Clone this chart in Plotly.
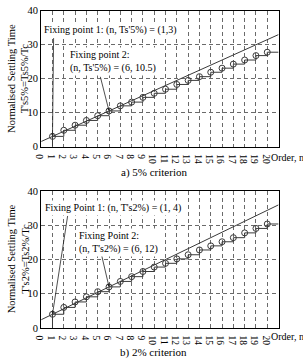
import plotly.graph_objects as go

orders = list(range(1, 21))
ts5 = [3, 4.8, 6.3, 7.7, 9.1, 10.5, 12.0, 13.1, 14.5, 15.7,
       16.9, 18.3, 19.5, 20.6, 21.9, 23.1, 24.3, 25.5, 26.8, 27.8]
ts2 = [4, 6.0, 7.6, 9.1, 10.6, 12.0, 13.6, 15.0, 16.5, 17.8,
       18.9, 20.2, 21.4, 22.8, 24.0, 25.2, 26.4, 27.8, 29.1, 30.4]
fix5 = [(1, 3), (6, 10.5)]
fix2 = [(1, 4), (6, 12)]
x_ticks = list(range(0, 21))
y_ticks = [0, 10, 20, 30, 40]
X_MAX = 21

FONT = "Liberation Serif, Times New Roman, serif"
LC = "#3a3a3a"

fig = go.Figure()

def add_panel(vals, fix, xa, ya):
    sx = [orders[0]] + orders + [X_MAX]
    sy = [0] + vals + [vals[-1]]
    fig.add_trace(go.Scatter(x=sx, y=sy, mode="lines", line=dict(color=LC, width=1, shape="hv"),
                             xaxis=xa, yaxis=ya, showlegend=False, hoverinfo="skip"))
    (x1, y1), (x2, y2) = fix
    k = (y2 - y1) / (x2 - x1)
    b = y1 - k * x1
    fig.add_trace(go.Scatter(x=[0, X_MAX], y=[b, b + k * X_MAX], mode="lines",
                             line=dict(color=LC, width=1), xaxis=xa, yaxis=ya,
                             showlegend=False, hoverinfo="skip"))
    fig.add_trace(go.Scatter(x=orders, y=vals, mode="markers",
                             marker=dict(symbol="circle-open", size=6, color=LC, line=dict(width=1, color=LC)),
                             xaxis=xa, yaxis=ya, showlegend=False))

add_panel(ts5, fix5, "x", "y")
add_panel(ts2, fix2, "x2", "y2")

axis_common = dict(showline=True, linecolor="black", linewidth=1, mirror=True,
                   showgrid=True, gridcolor="#6a6a6a", gridwidth=0.8, griddash="4px,3px",
                   zeroline=False, ticks="", tickfont=dict(family=FONT, size=9.5, color="black"),
                   layer="below traces")

fig.update_layout(
    width=303, height=363,
    margin=dict(l=0, r=0, t=0, b=0),
    paper_bgcolor="white", plot_bgcolor="white",
    font=dict(family=FONT, color="black"),
    xaxis=dict(domain=[0.1155, 0.9175], range=[0, X_MAX], tickvals=x_ticks, anchor="y", **axis_common),
    yaxis=dict(domain=[0.5978, 0.9835], range=[0, 40], tickvals=y_ticks, anchor="x", **axis_common),
    xaxis2=dict(domain=[0.1155, 0.9175], range=[0, X_MAX], tickvals=x_ticks, anchor="y2", **axis_common),
    yaxis2=dict(domain=[0.0826, 0.4711], range=[0, 40], tickvals=y_ticks, anchor="x2", **axis_common),
)
fig.update_yaxes(tickfont=dict(size=10.5))

anns = []
def txt(text, x, y, xref, yref, size=10, xanchor="left", yanchor="middle", **kw):
    anns.append(dict(text=text, x=x, y=y, xref=xref, yref=yref, showarrow=False,
                     xanchor=xanchor, yanchor=yanchor, font=dict(family=FONT, size=size, color="black"), **kw))

def arrow(x, y, ax, ay, xref, yref):
    anns.append(dict(text="", x=x, y=y, ax=ax, ay=ay, xref=xref, yref=yref, axref=xref, ayref=yref,
                     showarrow=True, arrowhead=2, arrowsize=0.7, arrowwidth=0.8, arrowcolor="#222"))

arrow(fix5[0][0], fix5[0][1], 1.1, 32.4, "x", "y")
arrow(fix5[1][0], fix5[1][1], 5.2, 21.0, "x", "y")
arrow(fix2[0][0], fix2[0][1], 2.36, 33.2, "x2", "y2")
arrow(fix2[1][0], fix2[1][1], 5.33, 21.5, "x2", "y2")

txt("Fixing point 1: (n, Ts'5%) = (1,3)", 0.05, 34.3, "x", "y", bgcolor="white")
txt("Fixing point 2:<br>(n, Ts'5%) = (6, 10.5)", 2.4, 25.1, "x", "y", bgcolor="white", align="left")

txt("Fixing Point 1: (n, T's2%) = (1, 4)", 0.15, 35.2, "x2", "y2", bgcolor="white")
txt("Fixing Point 2:<br>(n, T's2%) = (6, 12)", 3.2, 25.0, "x2", "y2", bgcolor="white", align="left")

txt("Normalised Settling Time<br>T's5%=Ts5%/Tc", 11.5 / 303, 1 - 76 / 363, "paper", "paper",
    size=10.5, xanchor="center", yanchor="middle", textangle=-90)
txt("Normalised Settling Time<br>T's2%=Ts2%/Tc", 11.5 / 303, 1 - 262 / 363, "paper", "paper",
    size=10.5, xanchor="center", yanchor="middle", textangle=-90)

txt("Order, n", 268 / 303, 1 - 157 / 363, "paper", "paper", size=10)
txt("Order, n", 268 / 303, 1 - 342 / 363, "paper", "paper", size=10)

txt("a) 5% criterion", 150 / 303, 1 - 173 / 363, "paper", "paper", size=11, xanchor="center")
txt("b) 2% criterion", 150 / 303, 1 - 358 / 363, "paper", "paper", size=11, xanchor="center")

fig.update_layout(annotations=anns)
fig.write_html("out.html")
